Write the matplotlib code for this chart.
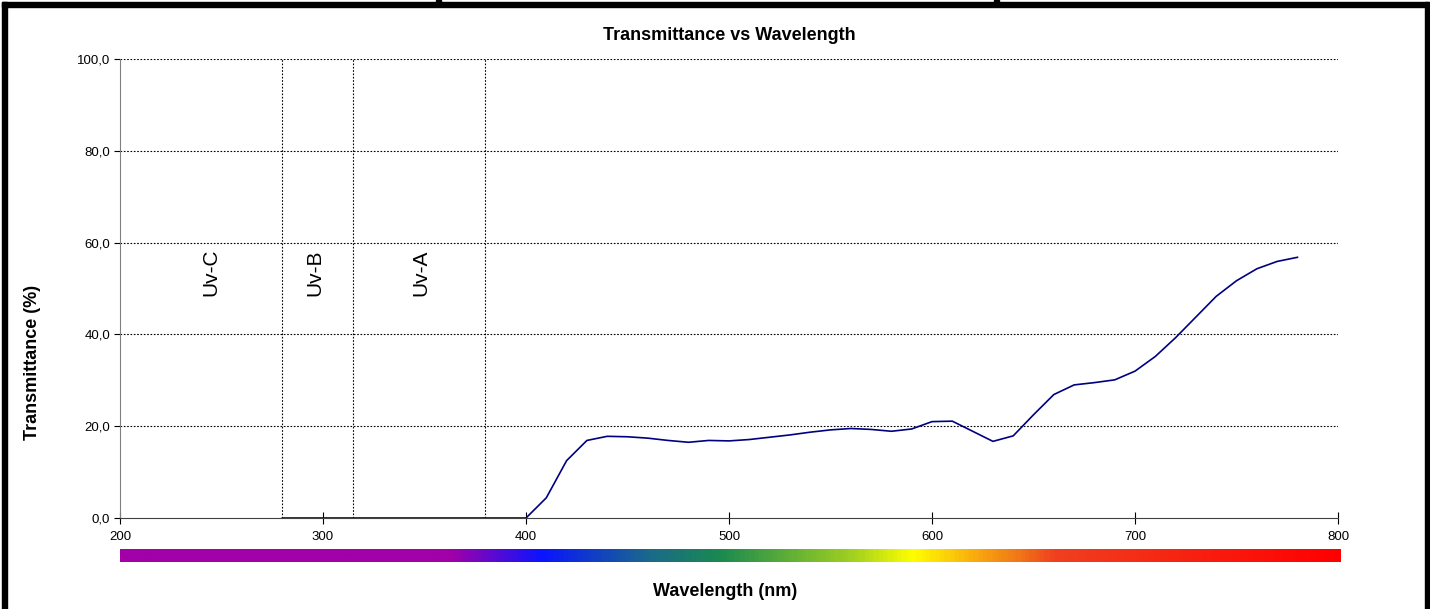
import matplotlib
matplotlib.use('Agg')
from matplotlib import pyplot as plt
from matplotlib.colors import LinearSegmentedColormap
from matplotlib.patches import Rectangle
import numpy as np

plt.rcParams['font.family'] = ['Liberation Sans', 'DejaVu Sans']

# measured transmittance curve
wavelength = [280, 290, 300, 310, 320, 330, 340, 350, 360, 370, 380, 390, 400,
              410, 420, 430, 440, 450, 460, 470, 480, 490, 500, 510, 520, 530,
              540, 550, 560, 570, 580, 590, 600, 610, 620, 630, 640, 650, 660,
              670, 680, 690, 700, 710, 720, 730, 740, 750, 760, 770, 780]
transmittance = [0, 0, 0, 0, 0, 0, 0, 0, 0, 0, 0, 0, 0,
                 4.4, 12.5, 16.9, 17.8, 17.7, 17.4, 16.9, 16.5, 16.9, 16.8, 17.1, 17.6, 18.1,
                 18.7, 19.2, 19.5, 19.3, 18.9, 19.4, 21.0, 21.1, 18.9, 16.7, 17.9, 22.5, 26.9,
                 29.0, 29.5, 30.1, 32.0, 35.2, 39.3, 43.8, 48.3, 51.7, 54.3, 55.9, 56.8]

# UV band boundaries and labels
band_edges = [280, 315, 380]
band_labels = ['Uv-C', 'Uv-B', 'Uv-A']
band_label_x = [245, 296, 348]

yticks = [0, 20, 40, 60, 80, 100]
xticks = [200, 300, 400, 500, 600, 700, 800]

# spectrum strip under the axis
spec_nm = [200, 362, 407, 460, 495, 560, 590, 625, 645, 660, 800]
spec_col = ['#a200a8', '#a200a8', '#0a14ff', '#1a6a8a', '#1a8a50', '#a0d020',
            '#ffff00', '#f8a010', '#f07018', '#f04020', '#ff0000']

fig = plt.figure(figsize=(14.3, 6.09), dpi=100)
ax = fig.add_axes([0.0839, 0.1494, 0.8518, 0.7537])

for y in yticks[1:]:
    ax.axhline(y, color='black', lw=0.8, ls=(0, (1.5, 1.5)), zorder=1)
for x in band_edges:
    ax.plot([x, x], [0, 100], color='black', lw=0.8, ls=(0, (1.5, 1.5)), zorder=1)

ax.plot(wavelength, transmittance, color='#000080', lw=1.2, zorder=3)

for x, lab in zip(band_label_x, band_labels):
    ax.text(x, 60 - 6.5, lab, rotation=90, ha='center', va='center', fontsize=15)

ax.set_xlim(200, 800)
ax.set_ylim(0, 100)
ax.set_xticks(xticks)
ax.set_yticks(yticks)
ax.set_yticklabels([f'{v:.1f}'.replace('.', ',') for v in yticks])
ax.tick_params(axis='x', direction='inout', length=8, labelsize=9.5, pad=5)
ax.tick_params(axis='y', direction='out', length=4, labelsize=9.5, pad=3)
for s in ['top', 'right']:
    ax.spines[s].set_visible(False)
ax.spines['left'].set_color('#808080')
ax.spines['bottom'].set_color('#404040')
ax.set_title('Transmittance vs Wavelength', fontsize=13, fontweight='bold', pad=14)
ax.set_ylabel('Transmittance (%)', fontsize=13, fontweight='bold')
ax.yaxis.set_label_coords(-0.065, 0.338)

cax = fig.add_axes([0.0839, 0.0772, 0.8538, 0.0213])
pos = [(n - 200) / 600 for n in spec_nm]
cmap = LinearSegmentedColormap.from_list('spec', list(zip(pos, spec_col)))
cax.imshow(np.linspace(0, 1, 600)[None, :], aspect='auto', cmap=cmap,
           extent=[200, 800, 0, 1])
cax.set_axis_off()
fig.text(0.507, 0.028, 'Wavelength (nm)', ha='center', va='center',
         fontsize=13, fontweight='bold')

# black frame around the chart
fig.patches.append(Rectangle((0.0014, 0.9885), 0.9972, 0.0082, transform=fig.transFigure,
                             color='black', zorder=10))
fig.patches.append(Rectangle((0.0014, 0.0), 0.0035, 0.9967, transform=fig.transFigure,
                             color='black', zorder=10))
fig.patches.append(Rectangle((0.9965, 0.0), 0.0035, 0.9967, transform=fig.transFigure,
                             color='black', zorder=10))
for fx in [0.305, 0.695]:
    fig.patches.append(Rectangle((fx, 0.99), 0.0035, 0.01, transform=fig.transFigure,
                                 color='black', zorder=10))

fig.savefig('out.png', dpi=100)
